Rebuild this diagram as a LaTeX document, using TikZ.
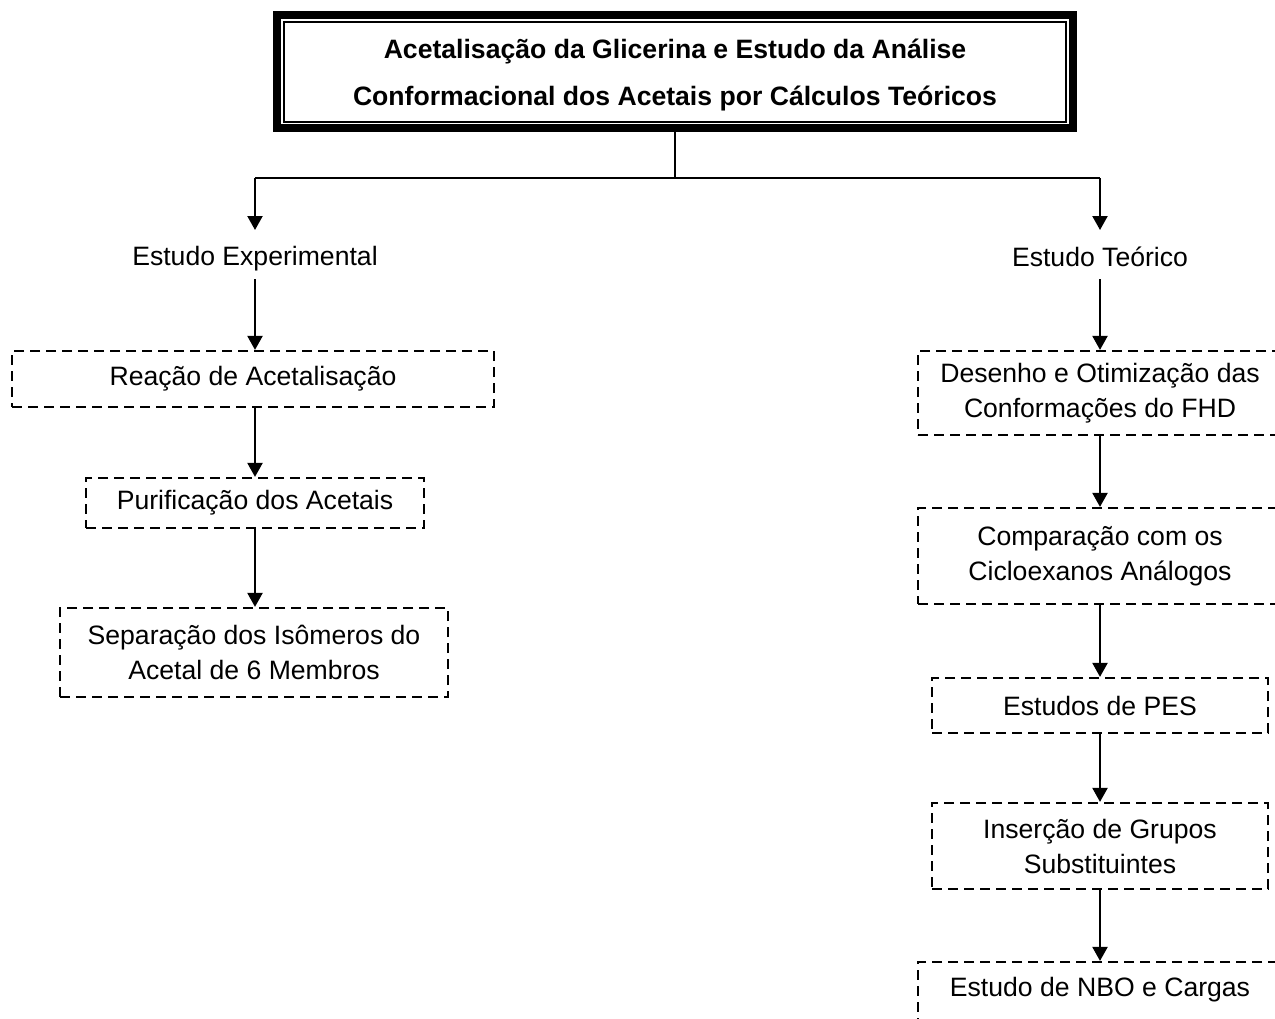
\documentclass[tikz,border=0pt]{standalone}
\usepackage{fontspec}
\setmainfont{Liberation Sans}
\usetikzlibrary{arrows.meta}
\begin{document}
\begin{tikzpicture}[x=0.5pt,y=-0.5pt,
  dbox/.style={draw, line width=1.1pt, dash pattern=on 5pt off 3pt, inner sep=0pt, align=center,
    font=\fontsize{13.3pt}{17.5pt}\selectfont},
  plain/.style={inner sep=1pt, font=\fontsize{13.3pt}{17.5pt}\selectfont},
  arr/.style={line width=1.1pt, -{Triangle[width=7.5pt,length=7pt]}},
  conn/.style={line width=0.8pt}]
\useasboundingbox (0,0) rectangle (1275,1018);
\clip (0,0) rectangle (1275,1018);
\fill[white] (0,0) rectangle (1275,1018);
% title
\node[draw, line width=4pt, minimum width=398pt, minimum height=56.5pt, inner sep=0pt] (title) at (675,71.5) {};
\node[draw, line width=1pt, minimum width=391pt, minimum height=50pt, inner sep=0pt] (titlein) at (675,71.5) {};
\node[align=center, inner sep=0pt, font=\bfseries\fontsize{13.3pt}{23.5pt}\selectfont] (titletxt) at (675,74.5)
  {Acetalisação da Glicerina e Estudo da Análise\\Conformacional dos Acetais por Cálculos Teóricos};
\coordinate (hub) at (675,178);
\coordinate (hl) at (255,178);
\coordinate (hr) at (1100,178);
% column heads
\node[plain] (exp) at (255,259) {Estudo Experimental};
\node[plain] (teo) at (1100,257) {Estudo Teórico};
% left boxes
\node[dbox, minimum width=241pt, minimum height=28pt] (r1) at (253,379) {Reação de Acetalisação};
\node[dbox, minimum width=169pt, minimum height=25pt] (r2) at (255,503) {Purificação dos Acetais};
\node[dbox, minimum width=194pt, minimum height=44.5pt] (r3) at (254,652.5) {Separação dos Isômeros do\\Acetal de 6 Membros};
% right boxes
\node[dbox, minimum width=182pt, minimum height=42pt] (t1) at (1100,393) {Desenho e Otimização das\\Conformações do FHD};
\node[dbox, minimum width=182pt, minimum height=48pt] (t2) at (1100,556) {Comparação com os\\Cicloexanos Análogos};
\node[dbox, minimum width=168pt, minimum height=27.5pt] (t3) at (1100,705.5) {Estudos de PES};
\node[dbox, minimum width=168pt, minimum height=43pt] (t4) at (1100,846) {Inserção de Grupos\\Substituintes};
\node[dbox, minimum width=182pt, minimum height=32pt] (t5) at (1100,994) {};
\node[plain] (t5txt) at (1100,990) {Estudo de NBO e Cargas};
% connectors
\draw[conn] (title.south) -- (hub);
\draw[conn] (hl) -- (hr);
\draw[arr] (hl) -- (255,230);
\draw[arr] (hr) -- (1100,230);
\draw[arr] ([yshift=-10pt]exp.center) -- (r1.north -| exp.center);
\draw[arr] ([yshift=-11pt]teo.center) -- (t1.north);
\draw[arr] (r1.south -| exp.center) -- (r2.north);
\draw[arr] (r2.south) -- (r3.north -| r2.south);
\draw[arr] (t1.south) -- (t2.north);
\draw[arr] (t2.south) -- (t3.north);
\draw[arr] (t3.south) -- (t4.north);
\draw[arr] (t4.south) -- (t5.north);
\end{tikzpicture}
\end{document}
